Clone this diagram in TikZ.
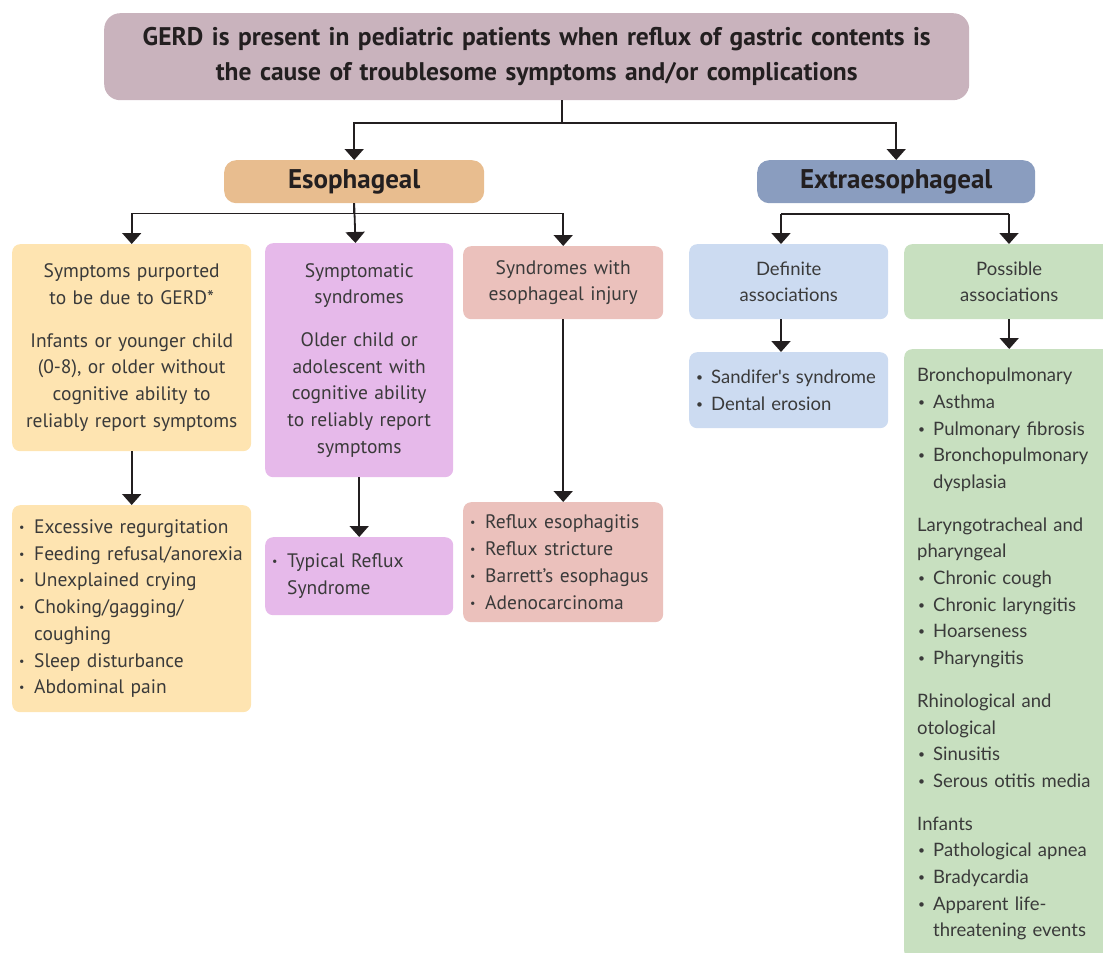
\documentclass[tikz,border=0pt]{standalone}
\usepackage{fontspec}
\setmainfont{PT Sans}
\newfontfamily\widefont{Lato}
\usetikzlibrary{arrows.meta}

\definecolor{ink}{HTML}{231F20}
\definecolor{bodyink}{HTML}{3A3A3A}
\definecolor{gerdfill}{HTML}{C9B3BD}
\definecolor{esofill}{HTML}{E8BD8F}
\definecolor{extrafill}{HTML}{8A9DBF}
\definecolor{sympfill}{HTML}{FEE4B1}
\definecolor{synfill}{HTML}{E6B9EA}
\definecolor{injfill}{HTML}{EBC1BC}
\definecolor{deffill}{HTML}{CCDBF1}
\definecolor{posfill}{HTML}{C8E0C0}

\newcommand{\bodyfont}{\fontsize{19.5}{26.7}\selectfont}
\newcommand{\widebody}{\widefont\fontsize{18.5}{26.7}\selectfont}
\newcommand{\itm}{\makebox[16pt][l]{\hspace{1pt}\raisebox{2pt}{\fontsize{12}{12}\selectfont\textbullet}}}
\newcommand{\cnt}{\hspace*{16pt}}

\tikzset{
    card/.style = {
        rectangle, rounded corners=8pt, anchor=north west, inner ysep=0pt,
        font=\bodyfont, text=bodyink, fill=#1
    },
    centred/.style = {card=#1, inner xsep=0pt, align=center},
    listed/.style = {card=#1, inner xsep=6pt, align=left},
    headbox/.style = {
        card=#1, rounded corners=12pt, inner xsep=0pt, align=center,
        font=\fontsize{27}{30}\selectfont\bfseries, text=ink
    },
    link/.style = {line width=1.8pt, draw=ink},
    tip/.style = {-{Triangle[width=19pt,length=11pt]}}
}

\begin{document}
\begin{tikzpicture}[x=1pt,y=-1pt]
    \useasboundingbox (0,0) rectangle (1103,953);

    % top
    \node[headbox=gerdfill, rounded corners=16pt, minimum width=865pt, text width=865pt,
          minimum height=87pt, font=\fontsize{25.5}{35}\selectfont\bfseries] (gerd) at (104,13)
        {GERD is present in pediatric patients when reflux of gastric contents is\\
         the cause of troublesome symptoms and/or complications};
    \node[headbox=esofill, minimum width=260pt, text width=260pt, minimum height=43pt] (eso) at (224,160) {Esophageal};
    \node[headbox=extrafill, minimum width=278pt, text width=278pt, minimum height=43pt] (extra) at (757,160) {Extraesophageal};

    % esophageal branch
    \node[centred=sympfill, minimum width=239pt, text width=239pt, minimum height=207pt] (sympt) at (12,244)
        {Symptoms purported\\to be due to GERD*\\[16pt]
         Infants or younger child\\(0-8), or older without\\cognitive ability to\\reliably report symptoms};
    \node[listed=sympfill, minimum width=239pt, text width=227pt, minimum height=207pt] (symlist) at (12,505)
        {\itm Excessive regurgitation\\\itm Feeding refusal/anorexia\\\itm Unexplained crying\\
         \itm Choking/gagging/\\\cnt coughing\\\itm Sleep disturbance\\\itm Abdominal pain};
    \node[centred=synfill, minimum width=188pt, text width=188pt, minimum height=234pt] (synd) at (265,243)
        {Symptomatic\\syndromes\\[16pt]
         Older child or\\adolescent with\\cognitive ability\\to reliably report\\symptoms};
    \node[listed=synfill, minimum width=188pt, text width=176pt, minimum height=78pt] (typical) at (265,537)
        {\itm Typical Reflux\\\cnt Syndrome};
    \node[centred=injfill, minimum width=200pt, text width=200pt, minimum height=73pt] (injury) at (463,246)
        {Syndromes with\\esophageal injury};
    \node[listed=injfill, minimum width=200pt, text width=188pt, minimum height=120pt] (injlist) at (463,502)
        {\itm Reflux esophagitis\\\itm Reflux stricture\\\itm Barrett's esophagus\\\itm Adenocarcinoma};

    % extraesophageal branch
    \node[centred=deffill, minimum width=199pt, text width=199pt, minimum height=75pt,
          font=\widebody] (defin) at (689,244) {Definite\\associations};
    \node[listed=deffill, minimum width=199pt, text width=187pt, minimum height=76pt,
          font=\widebody] (sandif) at (689,352)
        {\itm Sandifer's syndrome\\\itm Dental erosion};
    \node[centred=posfill, minimum width=210pt, text width=210pt, minimum height=75pt,
          font=\widebody] (possib) at (904,244) {Possible\\associations};
    \node[listed=posfill, inner xsep=13pt, minimum width=220pt, text width=194pt, minimum height=610pt,
          font=\widebody] (posslist) at (904,349)
        {Bronchopulmonary\\\itm Asthma\\\itm Pulmonary fibrosis\\\itm Bronchopulmonary\\\cnt dysplasia\\[16pt]
         Laryngotracheal and\\pharyngeal\\\itm Chronic cough\\\itm Chronic laryngitis\\\itm Hoarseness\\\itm Pharyngitis\\[16pt]
         Rhinological and\\otological\\\itm Sinusitis\\\itm Serous otitis media\\[16pt]
         Infants\\\itm Pathological apnea\\\itm Bradycardia\\\itm Apparent life-\\\cnt threatening events};

    % connectors
    \coordinate (trunk) at (562,123);
    \coordinate (xl) at (781,214);
    \coordinate (xr) at (1009,214);
    \draw[link] (gerd.south -| trunk) -- (trunk);
    \draw[link,tip] (trunk) -| (eso);
    \draw[link,tip] (trunk) -| (extra);
    \draw[link,tip] (eso.south) -- ++(0,10) -| (sympt);
    \draw[link,tip] (eso.south) -- (synd);
    \draw[link,tip] (eso.south) -- ++(0,10) -| (injury);
    \draw[link] (xl) -- (xr);
    \draw[link,tip] (xl) -- (xl |- defin.north);
    \draw[link,tip] (xr) -- (xr |- possib.north);
    \draw[link,tip] (sympt) -- (symlist);
    \draw[link,tip] (synd) -- (typical);
    \draw[link,tip] (injury) -- (injlist);
    \draw[link,tip] (xl |- defin.south) -- (xl |- sandif.north);
    \draw[link,tip] (possib) -- (possib |- posslist.north);
\end{tikzpicture}
\end{document}
